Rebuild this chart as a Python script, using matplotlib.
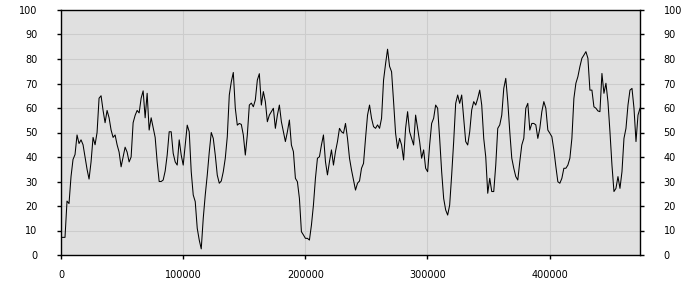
import numpy as np
import matplotlib
matplotlib.use("Agg")
import matplotlib.pyplot as plt

# values, one every ~1640 units along x
step = 1640
values = [
    7.2, 7.2, 7.2, 22, 21, 32, 39, 41, 49, 45.5,
    47, 45, 40, 35, 31, 38, 48, 45, 50, 64,
    65, 59, 54, 59, 56, 51, 48, 49, 45, 42,
    36, 40, 44, 42, 38, 40, 54, 57, 59, 58,
    64, 67, 56, 66, 51, 56, 52, 48, 38, 30,
    # 2
    30, 30.6, 34.3, 40.8, 50.3, 50.3, 41.5, 38, 36.7, 47,
    40.8, 36.7, 45, 53, 50.3, 34, 24.5, 21.8, 10.9, 6.1,
    2.5, 15, 24.5, 32.6, 42, 50, 47.6, 40.8, 32.6, 29.3,
    30.2, 34, 39.5, 48.3, 65.3, 70.7, 74.5, 59.9, 53, 53.7,
    53.3, 49, 40.8, 49, 61.2, 62, 60.5, 63.3, 71.4, 74,
    # 3
    61.2, 66.7, 62.6, 54.4, 57.1, 58.5, 59.9, 51.7, 57.1, 61.2,
    54.4, 50.3, 46.3, 50.3, 55.1, 44.9, 42.2, 31.3, 29.9, 23.1,
    9.5, 8.2, 6.8, 6.8, 6.1, 12.2, 20.4, 31.3, 39.5, 40.1,
    44.9, 49, 38.1, 32.7, 38.1, 42.9, 36.7, 42.2, 46.3, 51.7,
    50.3, 49.7, 53.7, 47.6, 39.5, 34.7, 30.6, 26.5, 29.3, 30.2,
    # 4
    35.4, 37.4, 47.6, 57.1, 61.2, 55.8, 52.4, 51.7, 53.1, 51.7,
    55.8, 71.4, 78, 84, 77, 74.8, 62.6, 49.7, 43.5, 47.6,
    44.9, 38.8, 51.7, 58.5, 50.3, 47.6, 44.9, 57.1, 51.7, 46.3,
    39.5, 42.9, 35.4, 34, 44.9, 53.7, 55.8, 61.2, 59.9, 47.6,
    34, 23.1, 18.4, 16.3, 20.4, 32.7, 46.3, 61.9, 65.3, 61.9,
    # 5
    65.3, 55.8, 46.3, 44.9, 50.3, 59.2, 62.6, 61.2, 63.9, 67.3,
    61.2, 47.6, 40.1, 25.2, 31.3, 25.9, 25.9, 36.7, 51.7, 53.1,
    57.1, 68, 72.1, 62.6, 50.3, 39.5, 35.4, 32, 30.6, 38.1,
    44.9, 47.6, 59.9, 61.9, 51, 53.7, 53.7, 53.1, 47.6, 51.7,
    58.5, 62.6, 59.9, 51, 49.7, 48.3, 42.9, 36.1, 29.9, 29.3,
    # 6
    31.3, 35.4, 35.4, 36.7, 39.5, 47.6, 63.9, 70.1, 72.8, 76.9,
    80.3, 81.6, 83, 80.3, 67.3, 67.3, 60.5, 59.9, 58.8, 58.5,
    74.1, 66, 70.1, 62.6, 50.3, 36.7, 25.9, 27.2, 32, 27.2,
    34, 47.6, 51.7, 61.2, 67.3, 68, 59.9, 46.3, 57.1, 59.9,
]
x = np.arange(len(values)) * step

y_ticks = list(range(0, 101, 10))
x_ticks = [0, 100000, 200000, 300000, 400000]

fig = plt.figure(figsize=(7, 3), dpi=100)
ax = fig.add_axes([61 / 700, 45 / 300, 579 / 700, 245 / 300])
ax.set_facecolor('#e0e0e0')
ax.plot(x, values, color='black', lw=0.75)

ax.set_xlim(0, x[-1])
ax.set_ylim(0, 100)
ax.set_xticks(x_ticks)
ax.set_xticklabels([str(t) for t in x_ticks])
ax.set_yticks(y_ticks)
ax.grid(True, color='#cccccc', lw=0.75)
ax.set_axisbelow(True)

for s in ax.spines.values():
    s.set_color('black')
    s.set_linewidth(1)

ax.tick_params(axis='both', labelsize=7, colors='black', length=3, width=1)
ax.tick_params(axis='y', left=True, right=True, labelleft=True, labelright=True, pad=14)
ax.tick_params(axis='x', pad=8)

fig.savefig('out.png', dpi=100)
